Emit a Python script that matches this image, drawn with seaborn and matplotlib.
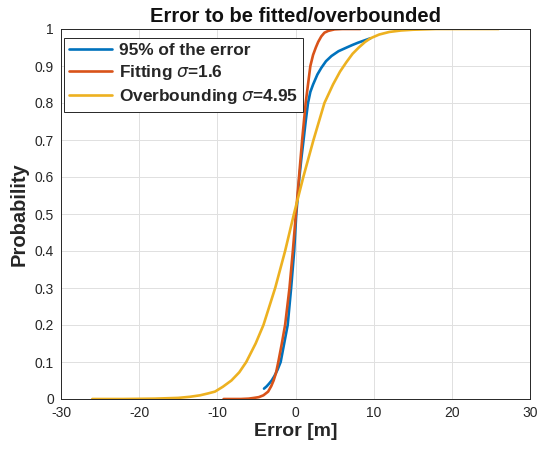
import matplotlib
matplotlib.use("Agg")
import matplotlib.pyplot as plt
import seaborn as sns
import pandas as pd

# Data
blue_x = [-4.03, -3.7, -3.4, -3.05, -2.7, -2.3, -1.9, -1.45, -1.0, -0.56, -0.17, 0.1, 0.5, 0.75, 1.03, 1.3, 1.6, 1.9, 2.25, 2.8, 3.3, 3.9, 4.6, 5.5, 6.55, 7.3, 8.0, 8.8, 9.6]
blue_y = [0.028, 0.034, 0.041, 0.05, 0.062, 0.079, 0.1, 0.15, 0.2, 0.3, 0.4, 0.5, 0.6, 0.65, 0.7, 0.75, 0.8, 0.83, 0.85, 0.877, 0.895, 0.913, 0.927, 0.94, 0.95, 0.957, 0.963, 0.969, 0.975]

red_x = [-9.2, -7.0, -6.0, -5.3, -4.7, -4.1, -3.5, -3.1, -2.8, -2.5, -2.2, -1.75, -1.33, -0.77, -0.34, 0.05, 0.45, 0.85, 1.3, 1.6, 1.9, 2.25, 2.6, 2.9, 3.3, 3.7, 4.2, 5.0, 6.0, 7.0, 8.3]
red_y = [0.0, 0.0, 0.001, 0.003, 0.005, 0.01, 0.02, 0.035, 0.05, 0.07, 0.1, 0.15, 0.2, 0.3, 0.4, 0.5, 0.6, 0.7, 0.8, 0.85, 0.9, 0.93, 0.95, 0.965, 0.98, 0.99, 0.995, 0.999, 1.0, 1.0, 1.0]

yel_x = [-26, -22, -18, -15, -13.5, -12.2, -11.2, -10.3, -9.3, -8.2, -7.2, -6.3, -5.1, -4.1, -2.6, -1.33, -0.2, 1.0, 2.3, 3.7, 4.8, 5.7, 6.5, 7.3, 8.1, 8.9, 9.6, 10.7, 12.0, 13.5, 15, 18, 22, 26]
yel_y = [0.0, 0.0, 0.001, 0.003, 0.006, 0.01, 0.015, 0.02, 0.033, 0.05, 0.072, 0.1, 0.15, 0.2, 0.3, 0.4, 0.5, 0.6, 0.7, 0.8, 0.85, 0.885, 0.91, 0.933, 0.95, 0.965, 0.975, 0.985, 0.992, 0.996, 0.998, 1.0, 1.0, 1.0]

labels = ["95% of the error", r"Fitting $\sigma$=1.6", r"Overbounding $\sigma$=4.95"]
colors = ["#0072BD", "#D95319", "#EDB120"]
x_ticks = [-30, -20, -10, 0, 10, 20, 30]
y_ticks = [0, 0.1, 0.2, 0.3, 0.4, 0.5, 0.6, 0.7, 0.8, 0.9, 1]
y_tick_labels = ["0", "0.1", "0.2", "0.3", "0.4", "0.5", "0.6", "0.7", "0.8", "0.9", "1"]

sns.set_style("whitegrid")
plt.rcParams["font.family"] = ["Liberation Sans", "DejaVu Sans"]
plt.rcParams["mathtext.fontset"] = "dejavusans"

fig = plt.figure(figsize=(5.37, 4.49), dpi=100)
ax = fig.add_axes([61/537, 1-399/449, 469/537, 370/449])

series = [(blue_x, blue_y), (red_x, red_y), (yel_x, yel_y)]
for (xs, ys), lab, c in zip(series, labels, colors):
    df = pd.DataFrame({"x": xs, "y": ys})
    sns.lineplot(data=df, x="x", y="y", ax=ax, color=c, linewidth=1.9,
                 label=lab, estimator=None, sort=False)

ax.set_xlim(-30, 30)
ax.set_ylim(0, 1)
ax.set_xticks(x_ticks)
ax.set_xticklabels([str(t) for t in x_ticks])
ax.set_yticks(y_ticks)
ax.set_yticklabels(y_tick_labels)
ax.tick_params(axis="both", labelsize=10, colors="#262626", direction="in",
               length=3, width=0.6)
ax.tick_params(axis="x", pad=5)
ax.tick_params(axis="y", pad=5)
ax.grid(True, color="#e0e0e0", linewidth=0.7)
for s in ax.spines.values():
    s.set_color("#262626")
    s.set_linewidth(0.7)

ax.set_title("Error to be fitted/overbounded", fontsize=14.5, fontweight="bold", pad=5, color="#111111")
ax.set_xlabel("Error [m]", fontsize=14, fontweight="bold", color="#262626", labelpad=2)
ax.set_ylabel("Probability", fontsize=14.5, fontweight="bold", color="#262626", labelpad=4)

leg = ax.legend(loc="upper left", bbox_to_anchor=(0.006, 0.976), borderaxespad=0,
                fancybox=False, edgecolor="#262626", framealpha=1,
                prop={"weight": "bold", "size": 12.4}, handlelength=2.5,
                handletextpad=0.4, labelspacing=0.3, borderpad=0.3)
leg.get_frame().set_linewidth(0.7)

fig.savefig("out.png", dpi=100)
